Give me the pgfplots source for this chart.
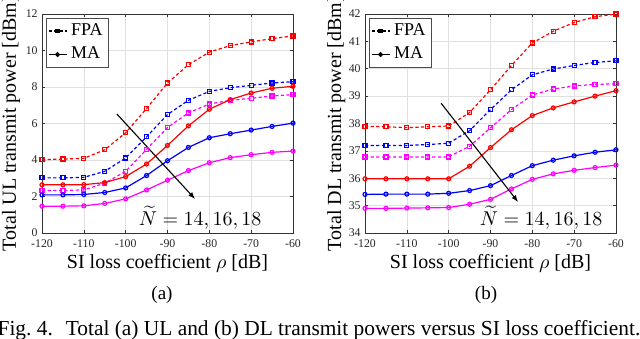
\documentclass[border=0pt]{standalone}
\usepackage{fontspec}
\setmainfont{Liberation Serif}
\usepackage{pgfplots}
\usepackage{pgfplotstable}
\pgfplotsset{compat=1.18}
\usetikzlibrary{arrows.meta}
\definecolor{colR}{rgb}{1,0,0}
\definecolor{colB}{rgb}{0,0,1}
\definecolor{colM}{rgb}{1,0,1}

\pgfplotstableread{
x rF bF mF rM bM mM
-120 4.02 3.02 2.33 2.64 2.09 1.47
-115 4.05 3.02 2.33 2.64 2.09 1.47
-110 4.09 3.05 2.36 2.65 2.11 1.49
-105 4.56 3.38 2.73 2.76 2.22 1.62
-100 5.49 4.11 3.38 3.09 2.47 1.87
-95 6.82 5.27 4.58 3.78 3.15 2.36
-90 8.22 6.49 5.78 4.80 3.96 2.89
-85 9.22 7.27 6.58 5.87 4.69 3.42
-80 9.91 7.76 7.07 6.78 5.22 3.85
-75 10.27 7.96 7.27 7.31 5.44 4.13
-70 10.47 8.09 7.38 7.67 5.64 4.29
-65 10.65 8.22 7.51 7.93 5.84 4.42
-60 10.80 8.29 7.58 8.04 6.02 4.49
}\ULdata

\pgfplotstableread{
x rF bF mF rM bM mM
-120 37.90 37.20 36.78 35.98 35.41 34.90
-115 37.88 37.20 36.78 35.98 35.42 34.90
-110 37.85 37.20 36.78 35.98 35.42 34.91
-105 37.88 37.23 36.78 35.98 35.42 34.92
-100 37.91 37.28 36.78 35.98 35.45 34.93
-95 38.40 37.74 37.17 36.44 35.55 35.05
-90 39.23 38.51 37.84 37.12 35.73 35.23
-85 40.12 39.23 38.51 37.77 36.10 35.61
-80 40.94 39.78 39.04 38.29 36.46 35.96
-75 41.37 39.99 39.26 38.57 36.66 36.16
-70 41.69 40.12 39.37 38.79 36.82 36.29
-65 41.90 40.23 39.43 39.00 36.95 36.39
-60 42.00 40.29 39.45 39.20 37.04 36.48
}\DLdata

\pgfplotsset{
  mystyle/.style={
    scale only axis, width=125.5pt, height=109.5pt,
    xmin=-120, xmax=-60, xtick={-120,-110,...,-60},
    grid=major, major grid style={black!12, line width=0.3pt},
    axis line style={black!80, line width=0.4pt},
    tick style={black!80, line width=0.3pt}, major tick length=1.5pt,
    tick align=inside,
    /pgf/number format/assume math mode=true,
    ticklabel style={font=\fontsize{5.9}{6.5}\selectfont, text=black!85},
    xticklabel style={anchor=center, yshift=-5.5pt},
    yticklabel style={anchor=east, inner sep=0pt, xshift=-2pt},
    xlabel style={font=\fontsize{10}{12}\selectfont, at={([yshift=-15pt]axis description cs:0.5,0)}, anchor=center},
    ylabel style={font=\fontsize{10}{12}\selectfont, anchor=center},
    legend style={at={([xshift=2pt,yshift=-1.8pt]axis description cs:0,1)}, anchor=north west,
      draw=black!70, line width=0.4pt, font=\fontsize{9}{10}\selectfont,
      inner sep=0.8pt, row sep=0.3pt,
      legend image code/.code={\draw[mark repeat=2,mark phase=2,##1] plot coordinates {(0pt,0pt) (4.5pt,0pt) (9pt,0pt)};}},
    legend cell align=left,
    every axis plot/.append style={line width=0.6pt, mark size=1pt},
  },
  fpa/.style={dash pattern=on 1.6pt off 1.2pt, mark=square, mark options={solid}},
  ma/.style={solid, mark=o},
}

\begin{document}
\begin{tikzpicture}
\path[use as bounding box, clip] (0,0) rectangle (320pt,169pt);
% ---------- (a) UL ----------
\begin{axis}[mystyle, at={(21pt,52.5pt)}, anchor=south west,
  ymin=0, ymax=12, ytick={0,2,...,12},
  xlabel={SI loss coefficient $\rho$ [dB]},
  ylabel={Total UL transmit power [dBm]},
  ylabel style={at={([xshift=-15.5pt]axis description cs:0,0.5)}}]
\addlegendimage{black, fpa, mark size=0.8pt, mark=square*}
\addlegendentry{FPA}
\addlegendimage{black, ma, mark size=0.9pt, mark=*}
\addlegendentry{MA}
\addplot[colR, fpa, forget plot] table[x=x,y=rF] {\ULdata};
\addplot[colB, fpa, forget plot] table[x=x,y=bF] {\ULdata};
\addplot[colM, fpa, forget plot] table[x=x,y=mF] {\ULdata};
\addplot[colR, ma, forget plot] table[x=x,y=rM] {\ULdata};
\addplot[colB, ma, forget plot] table[x=x,y=bM] {\ULdata};
\addplot[colM, ma, forget plot] table[x=x,y=mM] {\ULdata};
\draw[black, line width=0.55pt, -{Latex[length=3.5pt,width=2.6pt]}] (axis cs:-102.1,6.52) -- (axis cs:-83.4,1.86);
\node[font=\fontsize{10}{12}\selectfont] at (axis cs:-82.2,0.82) {$\widetilde{N}=14,16,18$};
\end{axis}
% ---------- (b) DL ----------
\begin{axis}[mystyle, at={(182.5pt,52.5pt)}, anchor=south west,
  ymin=34, ymax=42, ytick={34,35,...,42},
  xlabel={SI loss coefficient $\rho$ [dB]},
  ylabel={Total DL transmit power [dBm]},
  ylabel style={at={([xshift=-14.3pt]axis description cs:0,0.5)}}]
\addlegendimage{black, fpa, mark size=0.8pt, mark=square*}
\addlegendentry{FPA}
\addlegendimage{black, ma, mark size=0.9pt, mark=*}
\addlegendentry{MA}
\addplot[colR, fpa, forget plot] table[x=x,y=rF] {\DLdata};
\addplot[colB, fpa, forget plot] table[x=x,y=bF] {\DLdata};
\addplot[colM, fpa, forget plot] table[x=x,y=mF] {\DLdata};
\addplot[colR, ma, forget plot] table[x=x,y=rM] {\DLdata};
\addplot[colB, ma, forget plot] table[x=x,y=bM] {\DLdata};
\addplot[colM, ma, forget plot] table[x=x,y=mM] {\DLdata};
\draw[black, line width=0.55pt, -{Latex[length=3.5pt,width=2.6pt]}] (axis cs:-101.8,38.74) -- (axis cs:-83.4,35.13);
\node[font=\fontsize{10}{12}\selectfont] at (axis cs:-77.9,34.55) {$\widetilde{N}=14,16,18$};
\end{axis}
\node[font=\fontsize{9.5}{11}\selectfont] at (81pt,21.5pt) {(a)};
\node[font=\fontsize{9.5}{11}\selectfont] at (243pt,21.5pt) {(b)};
\node[font=\fontsize{10.7}{12}\selectfont, anchor=base, inner sep=0pt] at (159.5pt,1.5pt) {Fig.~4.\hspace{0.6em}Total (a) UL and (b) DL transmit powers versus SI loss coefficient.};
\end{tikzpicture}
\end{document}
